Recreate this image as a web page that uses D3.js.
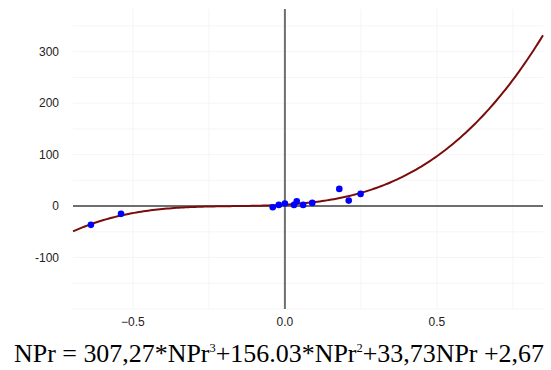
<!DOCTYPE html>
<html>
<head>
<meta charset="utf-8">
<script src="https://cdn.jsdelivr.net/npm/d3@7"></script>
<style>
  html, body { margin: 0; padding: 0; background: #fff; }
  svg { display: block; }
</style>
</head>
<body>
<div id="chart"></div>
<script>
// Datos
const pointsX = [-0.638, -0.539, -0.040, -0.020, 0.000, 0.030, 0.039, 0.060, 0.090, 0.179, 0.210, 0.249];
const pointsY = [-36.5, -15.1, -2.3, 2.3, 4.9, 2.3, 9.3, 2.3, 6.2, 33.4, 10.7, 23.7];
const coefs = [307.27, 156.03, 33.73, 2.67]; // NPr^3, NPr^2, NPr, const
const xTicks = [-0.5, 0.0, 0.5];
const yTicks = [-100, 0, 100, 200, 300];
const xGrid = [-0.5, -0.25, 0.25, 0.5, 0.75];
const yGrid = [-200, -150, -100, -50, 50, 100, 150, 200, 250, 300, 350];

const width = 551, height = 370;

const x = d3.scaleLinear().domain([-0.697, 0.849]).range([73, 543]);
const y = d3.scaleLinear().domain([-200, 383]).range([309, 9]);

const svg = d3.select("#chart").append("svg")
  .attr("width", width)
  .attr("height", height);

// Rejilla
svg.append("g").selectAll("line").data(yGrid).join("line")
  .attr("x1", x.range()[0]).attr("x2", x.range()[1])
  .attr("y1", d => y(d)).attr("y2", d => y(d))
  .attr("stroke", "#f5f5f5").attr("stroke-width", 1);
svg.append("g").selectAll("line").data(xGrid).join("line")
  .attr("x1", d => x(d)).attr("x2", d => x(d))
  .attr("y1", y.range()[0]).attr("y2", y.range()[1])
  .attr("stroke", "#f5f5f5").attr("stroke-width", 1);

// Ejes cero
svg.append("line")
  .attr("x1", x.range()[0]).attr("x2", x.range()[1])
  .attr("y1", y(0)).attr("y2", y(0))
  .attr("stroke", "#6e6e6e").attr("stroke-width", 2);
svg.append("line")
  .attr("x1", x(0)).attr("x2", x(0))
  .attr("y1", y.range()[0]).attr("y2", y.range()[1])
  .attr("stroke", "#6e6e6e").attr("stroke-width", 2);

// Etiquetas
svg.append("g").selectAll("text").data(yTicks).join("text")
  .attr("x", 59).attr("y", d => y(d))
  .attr("dy", "0.35em")
  .attr("text-anchor", "end")
  .style("font-family", "Liberation Sans, Arial, sans-serif")
  .style("font-size", "12px")
  .style("fill", "#222")
  .text(d => d);
svg.append("g").selectAll("text").data(xTicks).join("text")
  .attr("x", d => x(d)).attr("y", 326)
  .attr("text-anchor", "middle")
  .style("font-family", "Liberation Sans, Arial, sans-serif")
  .style("font-size", "12px")
  .style("fill", "#222")
  .text(d => d3.format(".1f")(d));

// Curva polinómica
const poly = v => coefs[0] * v * v * v + coefs[1] * v * v + coefs[2] * v + coefs[3];
const curveData = d3.range(0, 201).map(i => {
  const v = x.domain()[0] + (x.domain()[1] - x.domain()[0]) * i / 200;
  return [v, poly(v)];
});
svg.append("path")
  .datum(curveData)
  .attr("fill", "none")
  .attr("stroke", "#7a0c0c")
  .attr("stroke-width", 2)
  .attr("d", d3.line().x(d => x(d[0])).y(d => y(d[1])));

// Puntos
svg.append("g").selectAll("circle").data(pointsX).join("circle")
  .attr("cx", d => x(d))
  .attr("cy", (d, i) => y(pointsY[i]))
  .attr("r", 3.3)
  .attr("fill", "#0000ff");

// Ecuación
const eq = svg.append("text")
  .attr("x", 14).attr("y", 362)
  .attr("textLength", 530)
  .attr("lengthAdjust", "spacingAndGlyphs")
  .style("font-family", "Liberation Serif, Times New Roman, serif")
  .style("font-size", "25px")
  .style("fill", "#000");
eq.append("tspan").text("NPr = 307,27*NPr");
eq.append("tspan").attr("dy", -10).style("font-size", "12px").text("3");
eq.append("tspan").attr("dy", 10).text("+156.03*NPr");
eq.append("tspan").attr("dy", -10).style("font-size", "12px").text("2");
eq.append("tspan").attr("dy", 10).text("+33,73NPr +2,67");
</script>
</body>
</html>
